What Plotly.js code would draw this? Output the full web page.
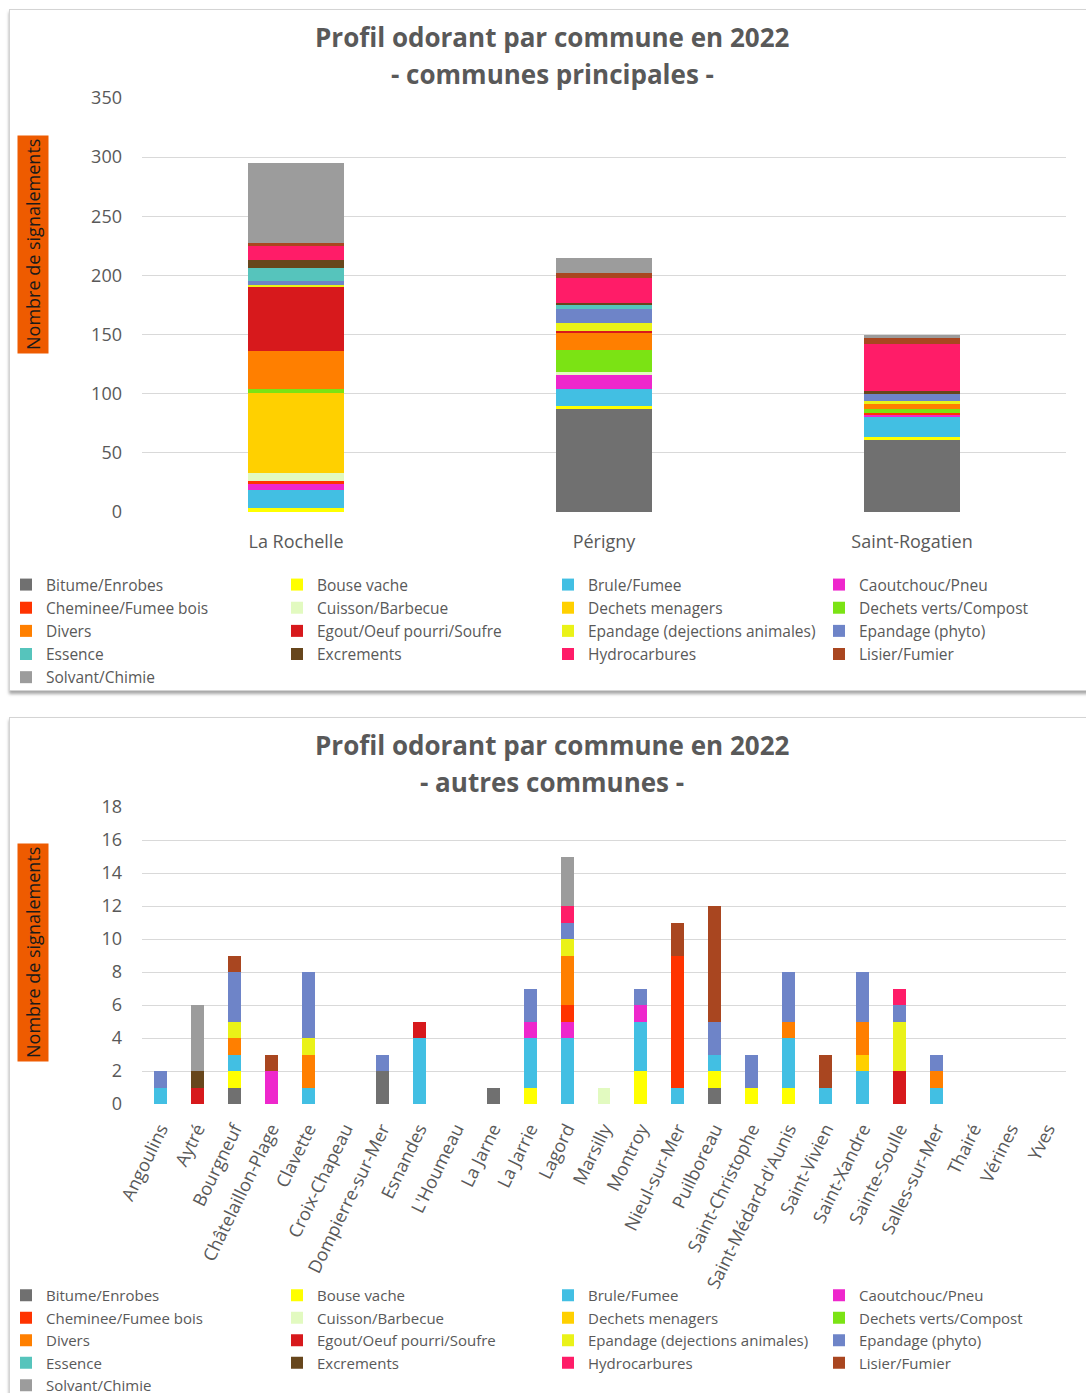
<!DOCTYPE html>
<html>
<head>
<meta charset="utf-8">
<script src="https://cdn.plot.ly/plotly-3.0.1.min.js"></script>
<style>
  html, body { margin: 0; padding: 0; background: #ffffff; width: 1086px; height: 1393px; overflow: hidden; position: relative; }
  .box { position: absolute; left: 9px; width: 1090px; height: 680px; background: #fff;
         border: 1px solid #d4d4d4; box-shadow: 0 3px 3px rgba(0,0,0,0.35); z-index: 0; }
  #box1 { top: 9px; }
  #box2 { top: 717px; }
  .chart { position: absolute; left: -18px; width: 1120px; height: 680px; z-index: 1; }
  #chart1 { top: 10px; }
  #chart2 { top: 718px; }
</style>
</head>
<body>
<div class="box" id="box1"></div>
<div class="box" id="box2"></div>
<div class="chart" id="chart1"></div>
<div class="chart" id="chart2"></div>
<script>
// ---------- Data ----------
const seriesNames = [
  'Bitume/Enrobes', 'Bouse vache', 'Brule/Fumee', 'Caoutchouc/Pneu',
  'Cheminee/Fumee bois', 'Cuisson/Barbecue', 'Dechets menagers', 'Dechets verts/Compost',
  'Divers', 'Egout/Oeuf pourri/Soufre', 'Epandage (dejections animales)', 'Epandage (phyto)',
  'Essence', 'Excrements', 'Hydrocarbures', 'Lisier/Fumier', 'Solvant/Chimie'
];
const seriesColors = [
  '#707070', '#FFFF00', '#42BFE3', '#EE27CC',
  '#FF3300', '#E2FAC0', '#FFD000', '#7BE314',
  '#FF7F00', '#D7191C', '#EAF218', '#6E84C8',
  '#56C4BC', '#67461C', '#FF1C68', '#A94620', '#9C9C9C'
];

// Top chart: communes principales
const communesPrincipales = ['La Rochelle', 'Périgny', 'Saint-Rogatien'];
const bitumeP       = [0, 87, 61];
const bouseP        = [3, 3, 2];
const bruleP        = [16, 14, 17];
const caoutchoucP   = [5, 12, 2];
const chemineeP     = [2, 0, 2];
const cuissonP      = [7, 2, 0];
const dechetsMenP   = [68, 0, 0];
const dechetsVertsP = [3, 19, 3];
const diversP       = [32, 14, 4];
const egoutP        = [55, 2, 0];
const epandDejP     = [1, 7, 3];
const epandPhytoP   = [3, 12, 6];
const essenceP      = [11, 3, 0];
const excrementsP   = [7, 2, 2];
const hydroP        = [12, 21, 40];
const lisierP       = [2, 4, 5];
const solvantP      = [68, 13, 3];
const valuesPrincipales = [bitumeP, bouseP, bruleP, caoutchoucP, chemineeP, cuissonP,
  dechetsMenP, dechetsVertsP, diversP, egoutP, epandDejP, epandPhytoP, essenceP,
  excrementsP, hydroP, lisierP, solvantP];

// Bottom chart: autres communes
const autresCommunes = ['Angoulins', 'Aytré', 'Bourgneuf', 'Châtelaillon-Plage', 'Clavette',
  'Croix-Chapeau', 'Dompierre-sur-Mer', 'Esnandes', "L'Houmeau", 'La Jarne', 'La Jarrie',
  'Lagord', 'Marsilly', 'Montroy', 'Nieul-sur-Mer', 'Puilboreau', 'Saint-Christophe',
  "Saint-Médard-d'Aunis", 'Saint-Vivien', 'Saint-Xandre', 'Sainte-Soulle', 'Salles-sur-Mer',
  'Thairé', 'Vérines', 'Yves'];
const bitumeA       = [0,0,1,0,0,0,2,0,0,1,0,0,0,0,0,1,0,0,0,0,0,0,0,0,0];
const bouseA        = [0,0,1,0,0,0,0,0,0,0,1,0,0,2,0,1,1,1,0,0,0,0,0,0,0];
const bruleA        = [1,0,1,0,1,0,0,4,0,0,3,4,0,3,1,1,0,3,1,2,0,1,0,0,0];
const caoutchoucA   = [0,0,0,2,0,0,0,0,0,0,1,1,0,1,0,0,0,0,0,0,0,0,0,0,0];
const chemineeA     = [0,0,0,0,0,0,0,0,0,0,0,1,0,0,8,0,0,0,0,0,0,0,0,0,0];
const cuissonA      = [0,0,0,0,0,0,0,0,0,0,0,0,1,0,0,0,0,0,0,0,0,0,0,0,0];
const dechetsMenA   = [0,0,0,0,0,0,0,0,0,0,0,0,0,0,0,0,0,0,0,1,0,0,0,0,0];
const dechetsVertsA = [0,0,0,0,0,0,0,0,0,0,0,0,0,0,0,0,0,0,0,0,0,0,0,0,0];
const diversA       = [0,0,1,0,2,0,0,0,0,0,0,3,0,0,0,0,0,1,0,2,0,1,0,0,0];
const egoutA        = [0,1,0,0,0,0,0,1,0,0,0,0,0,0,0,0,0,0,0,0,2,0,0,0,0];
const epandDejA     = [0,0,1,0,1,0,0,0,0,0,0,1,0,0,0,0,0,0,0,0,3,0,0,0,0];
const epandPhytoA   = [1,0,3,0,4,0,1,0,0,0,2,1,0,1,0,2,2,3,0,3,1,1,0,0,0];
const essenceA      = [0,0,0,0,0,0,0,0,0,0,0,0,0,0,0,0,0,0,0,0,0,0,0,0,0];
const excrementsA   = [0,1,0,0,0,0,0,0,0,0,0,0,0,0,0,0,0,0,0,0,0,0,0,0,0];
const hydroA        = [0,0,0,0,0,0,0,0,0,0,0,1,0,0,0,0,0,0,0,0,1,0,0,0,0];
const lisierA       = [0,0,1,1,0,0,0,0,0,0,0,0,0,0,2,7,0,0,2,0,0,0,0,0,0];
const solvantA      = [0,4,0,0,0,0,0,0,0,0,0,3,0,0,0,0,0,0,0,0,0,0,0,0,0];
const valuesAutres = [bitumeA, bouseA, bruleA, caoutchoucA, chemineeA, cuissonA,
  dechetsMenA, dechetsVertsA, diversA, egoutA, epandDejA, epandPhytoA, essenceA,
  excrementsA, hydroA, lisierA, solvantA];

const yTicksTop = [0, 50, 100, 150, 200, 250, 300, 350];
const yTicksBottom = [0, 2, 4, 6, 8, 10, 12, 14, 16, 18];

// ---------- Drawing ----------
const FONT = '"Open Sans", "Noto Sans", sans-serif';
const GREY = '#595959';
const CHART_LEFT = -18;           // page x of chart div
const ML = 160, PW = 924, W = 1120;
const px = (pageX) => (pageX - (CHART_LEFT + ML)) / PW;

function makeTraces(cats, values) {
  return seriesNames.map((name, i) => ({
    type: 'bar',
    name: name,
    x: cats,
    y: values[i],
    marker: { color: seriesColors[i], line: { width: 0 } },
    hoverinfo: 'x+y+name'
  }));
}

function makeLayout(opts) {
  const pt = opts.top, pb = opts.bottom, ph = pb - pt;
  const py = (divY) => (pb - divY) / ph;
  return {
    width: W, height: 680,
    margin: { l: ML, r: W - ML - PW, t: pt, b: 680 - pb, autoexpand: false },
    paper_bgcolor: 'rgba(0,0,0,0)', plot_bgcolor: 'rgba(0,0,0,0)',
    barmode: 'stack',
    bargap: opts.bargap,
    font: { family: FONT, color: GREY, size: 16 },
    xaxis: {
      type: 'category',
      tickfont: { family: FONT, size: 18, color: GREY },
      tickangle: opts.tickangle,
      ticklabelstandoff: opts.xstandoff,
      showgrid: false, zeroline: false, showline: false,
      ticks: '', ticklen: 0,
      automargin: false
    },
    yaxis: {
      range: opts.range,
      tickvals: opts.ticks,
      tickfont: { family: FONT, size: 18, color: GREY },
      showgrid: true, gridcolor: '#d9d9d9', gridwidth: 1,
      zeroline: false, showline: false, ticks: '',
      ticklabelstandoff: 19,
      automargin: false
    },
    showlegend: true,
    legend: {
      orientation: 'h',
      xref: 'paper', yref: 'paper',
      x: px(6), xanchor: 'left',
      y: py(opts.legendTop), yanchor: 'top',
      entrywidth: 226, entrywidthmode: 'pixels',
      traceorder: 'normal',
      bgcolor: 'rgba(0,0,0,0)',
      font: { family: FONT, size: opts.legendFont, color: GREY },
      itemclick: false, itemdoubleclick: false
    },
    annotations: [
      {
        text: '<b>Profil odorant par commune en 2022</b>',
        xref: 'paper', yref: 'paper',
        x: px(552), y: py(27),
        xanchor: 'center', yanchor: 'middle', showarrow: false,
        font: { family: FONT, size: 26, color: GREY }
      },
      {
        text: '<b>' + opts.subtitle + '</b>',
        xref: 'paper', yref: 'paper',
        x: px(552), y: py(64),
        xanchor: 'center', yanchor: 'middle', showarrow: false,
        font: { family: FONT, size: 26, color: GREY }
      },
      {
        text: 'Nombre de signalements',
        xref: 'paper', yref: 'paper',
        x: px(33), y: py(235),
        xanchor: 'center', yanchor: 'middle',
        textangle: -90,
        showarrow: false,
        bgcolor: '#EE5B00',
        borderpad: 3,
        font: { family: FONT, size: 18, color: '#1a1a1a' }
      }
    ]
  };
}

const layout1 = makeLayout({
  subtitle: '- communes principales -',
  top: 88, bottom: 502, bargap: 0.69, range: [0, 350], ticks: yTicksTop,
  tickangle: 0, xstandoff: 17, legendTop: 558, legendFont: 15.5
});
const layout2 = makeLayout({
  subtitle: '- autres communes -',
  top: 89, bottom: 386, bargap: 0.65, range: [0, 18], ticks: yTicksBottom,
  tickangle: -64, xstandoff: 10, legendTop: 561, legendFont: 15
});

Plotly.newPlot('chart1', makeTraces(communesPrincipales, valuesPrincipales), layout1, { displayModeBar: false });
Plotly.newPlot('chart2', makeTraces(autresCommunes, valuesAutres), layout2, { displayModeBar: false });
</script>
</body>
</html>
